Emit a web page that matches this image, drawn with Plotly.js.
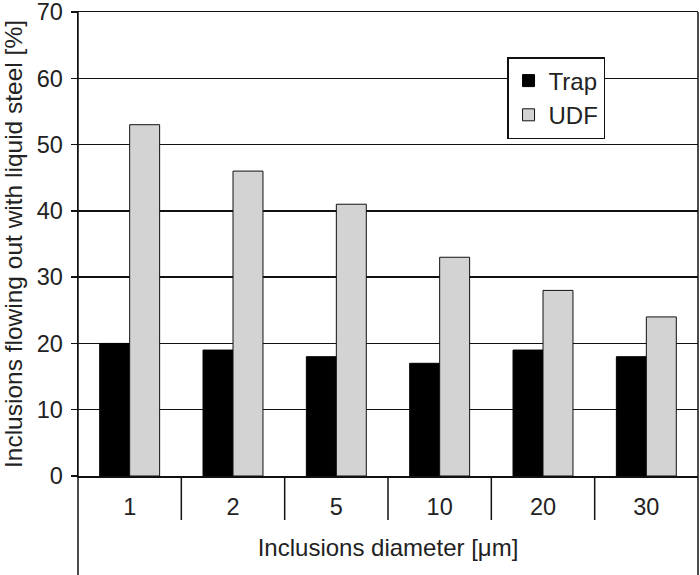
<!DOCTYPE html>
<html>
<head>
<meta charset="utf-8">
<script src="https://cdn.plot.ly/plotly-3.0.1.min.js"></script>
<style>html,body{margin:0;padding:0;background:#fff}</style>
</head>
<body>
<div id="chart" style="width:700px;height:575px"></div>
<script>
const categories = ["1", "2", "5", "10", "20", "30"];
const trapValues = [20, 19, 18, 17, 19, 18];
const udfValues = [53, 46, 41, 33, 28, 24];
const seriesNames = ["Trap", "UDF"];

const FONT = "Liberation Sans, Arial, sans-serif";
const plotH = 575 - 12 - 99;

const traces = [
  {type: "bar", name: seriesNames[0], x: categories, y: trapValues,
   marker: {color: "#000000", line: {color: "#000000", width: 1}}},
  {type: "bar", name: seriesNames[1], x: categories, y: udfValues,
   marker: {color: "#d3d3d3", line: {color: "#111111", width: 1}}}
];

const shapes = [];
// category separators below the axis
for (let i = 0; i < categories.length - 1; i++) {
  shapes.push({type: "line", xref: "x", yref: "paper", x0: i + 0.5, x1: i + 0.5,
    y0: 0, y1: -44 / plotH, line: {color: "#111", width: 1.5}});
}
// left and right frame lines extending to bottom
shapes.push({type: "line", xref: "paper", yref: "paper", x0: 0, x1: 0, y0: -99 / plotH, y1: 1, line: {color: "#111", width: 1.5}});
shapes.push({type: "line", xref: "paper", yref: "paper", x0: 1, x1: 1, y0: -99 / plotH, y1: 1, line: {color: "#111", width: 1.5}});

const layout = {
  width: 700, height: 575,
  margin: {l: 78, r: 2, t: 12, b: 99},
  paper_bgcolor: "#fff", plot_bgcolor: "#fff",
  font: {family: FONT, color: "#222", size: 20},
  barmode: "group",
  bargap: 0.42, bargroupgap: 0,
  showlegend: true,
  legend: {x: 0.692, y: 0.903, xanchor: "left", yanchor: "top",
    bordercolor: "#111", borderwidth: 1.5, bgcolor: "#fff",
    font: {family: FONT, size: 24, color: "#222"}, tracegroupgap: 0,
    itemwidth: 30},
  xaxis: {
    type: "category", showline: true, mirror: true, linecolor: "#111", linewidth: 1.5,
    ticks: "outside", ticklen: 9, tickcolor: "rgba(0,0,0,0)",
    tickfont: {family: FONT, size: 23.5, color: "#222"},
    title: {text: "Inclusions diameter [μm]", font: {family: FONT, size: 24, color: "#222"}, standoff: 20},
    showgrid: false, zeroline: false, fixedrange: true
  },
  yaxis: {
    range: [0, 70], dtick: 10, tick0: 0,
    showline: true, linecolor: "#111", linewidth: 1.5,
    ticks: "outside", ticklen: 6, tickcolor: "#111", tickwidth: 1.5,
    ticklabelstandoff: 3, ticklabeloverflow: "allow",
    showgrid: true, gridcolor: "#111", gridwidth: 1.5,
    zeroline: false,
    tickfont: {family: FONT, size: 23.5, color: "#222"},
    title: {text: "Inclusions flowing out with liquid steel [%]", font: {family: FONT, size: 24.5, color: "#222"}, standoff: 8}
  },
  shapes: shapes
};

Plotly.newPlot("chart", traces, layout, {displayModeBar: false, staticPlot: true});
</script>
</body>
</html>
